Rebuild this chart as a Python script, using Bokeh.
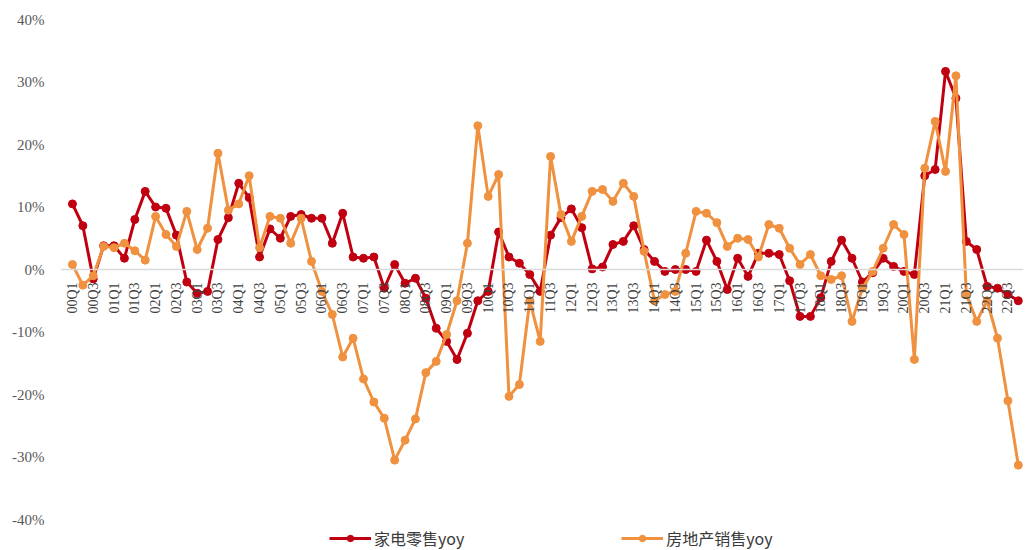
import math
from bokeh.plotting import figure
from bokeh.models import Range1d, FixedTicker, Legend, LegendItem, ColumnDataSource, Span
from bokeh.core.properties import value
from bokeh.embed import file_html
from bokeh.resources import INLINE

# quarter labels 00Q1 .. 22Q4
quarters = [f"{y:02d}Q{q}" for y in range(0, 23) for q in range(1, 5)]

# 家电零售 yoy (%)
appliance_yoy = [
    10.5, 7.0, -1.5, 3.8, 3.8, 1.8, 8.0, 12.5, 10.0, 9.8,
    5.5, -2.0, -3.8, -3.5, 4.8, 8.3, 13.8, 11.5, 2.0, 6.5,
    5.0, 8.5, 8.8, 8.2, 8.2, 4.2, 9.0, 2.0, 1.8, 2.0,
    -3.0, 0.8, -2.2, -1.4, -4.6, -9.4, -11.5, -14.4, -10.2, -5.0,
    -3.5, 6.0, 2.0, 1.0, -0.8, -3.5, 5.5, 8.3, 9.7, 6.7,
    0.1, 0.4, 4.0, 4.5, 7.0, 3.2, 1.3, -0.3, 0.0, 0.0,
    -0.3, 4.7, 1.3, -3.2, 1.8, -1.1, 2.6, 2.6, 2.4, -1.8,
    -7.5, -7.5, -4.5, 1.3, 4.7, 1.8, -2.0, -0.5, 1.8, 0.5,
    -0.3, -0.8, 15.0, 16.0, 31.7, 27.4, 4.5, 3.2, -2.7, -3.0,
    -4.0, -5.0,
]

# 房地产销售 yoy (%)
property_yoy = [
    0.8, -2.5, -1.0, 3.7, 3.5, 4.2, 3.0, 1.5, 8.5, 5.6,
    3.7, 9.3, 3.2, 6.6, 18.6, 9.5, 10.5, 15.0, 3.5, 8.5,
    8.2, 4.2, 8.2, 1.3, -3.5, -7.2, -14.0, -11.0, -17.5, -21.2,
    -23.8, -30.5, -27.3, -23.9, -16.5, -14.7, -10.4, -5.0, 4.2, 23.0,
    11.7, 15.2, -20.3, -18.4, -5.0, -11.5, 18.1, 8.8, 4.5, 8.5,
    12.5, 12.8, 10.9, 13.8, 11.7, 2.9, -5.0, -4.0, -3.5, 2.6,
    9.3, 9.0, 7.5, 3.7, 5.0, 4.8, 2.0, 7.2, 6.6, 3.4,
    0.8, 2.4, -1.0, -1.6, -1.0, -8.3, -3.0, -0.3, 3.4, 7.2,
    5.6, -14.4, 16.2, 23.7, 15.7, 31.0, -4.0, -8.3, -5.0, -11.0,
    -21.0, -31.3,
]

y_ticks = [-40, -30, -20, -10, 0, 10, 20, 30, 40]

RED = "#C00010"
ORANGE = "#F0913F"

idx = list(range(len(quarters)))
src = ColumnDataSource(dict(x=idx, q=quarters, a=appliance_yoy, p=property_yoy))
lab_src = ColumnDataSource(dict(x=idx[::2], y=[0] * len(idx[::2]), t=quarters[::2]))

# the frame runs to the bottom edge so the legend can sit under the -40% row
p = figure(
    width=1025, height=550,
    x_range=Range1d(-1.15, 91.5), y_range=Range1d(-44.96, 40),
    output_backend="svg", toolbar_location=None,
    min_border_left=60, min_border_right=2, min_border_top=19, min_border_bottom=0,
    background_fill_color="white", border_fill_color="white",
)
p.outline_line_color = None
p.grid.visible = False
p.xaxis.visible = False

p.yaxis.ticker = FixedTicker(ticks=y_ticks)
p.yaxis.major_label_overrides = {v: f"{v}%" for v in y_ticks}
p.yaxis.axis_line_color = None
p.yaxis.major_tick_line_color = None
p.yaxis.minor_tick_line_color = None
p.yaxis.major_label_standoff = 10
p.yaxis.major_label_text_font = "Liberation Serif"
p.yaxis.major_label_text_font_size = "15px"
p.yaxis.major_label_text_color = "#595959"

# zero line
p.add_layout(Span(location=0, dimension="width", line_color="#d9d9d9", line_width=1.5))

r_line = p.line("x", "a", source=src, line_color=RED, line_width=3)
r_pts = p.scatter("x", "a", source=src, size=8, fill_color=RED, line_color=RED)
o_line = p.line("x", "p", source=src, line_color=ORANGE, line_width=3)
o_pts = p.scatter("x", "p", source=src, size=8, fill_color=ORANGE, line_color=ORANGE)

# quarter labels hanging below the zero line
p.text("x", "y", text="t", source=lab_src, angle=math.pi / 2,
       text_align="right", text_baseline="middle", y_offset=13,
       text_font=value("Liberation Serif"), text_font_size="14px",
       text_color="#404040")

legend = Legend(
    items=[
        LegendItem(label="家电零售yoy", renderers=[r_line, r_pts]),
        LegendItem(label="房地产销售yoy", renderers=[o_line, o_pts]),
    ],
    orientation="horizontal",
    location=(269, 0),
    glyph_width=42, glyph_height=16, label_height=16,
    label_standoff=3, spacing=157, padding=4, margin=0,
    label_text_font="Noto Sans CJK SC", label_text_font_size="16px",
    label_text_color="#3a3a3a",
    border_line_color=None, background_fill_alpha=0,
)
p.add_layout(legend)

open("out.html", "w").write(file_html(p, INLINE))
